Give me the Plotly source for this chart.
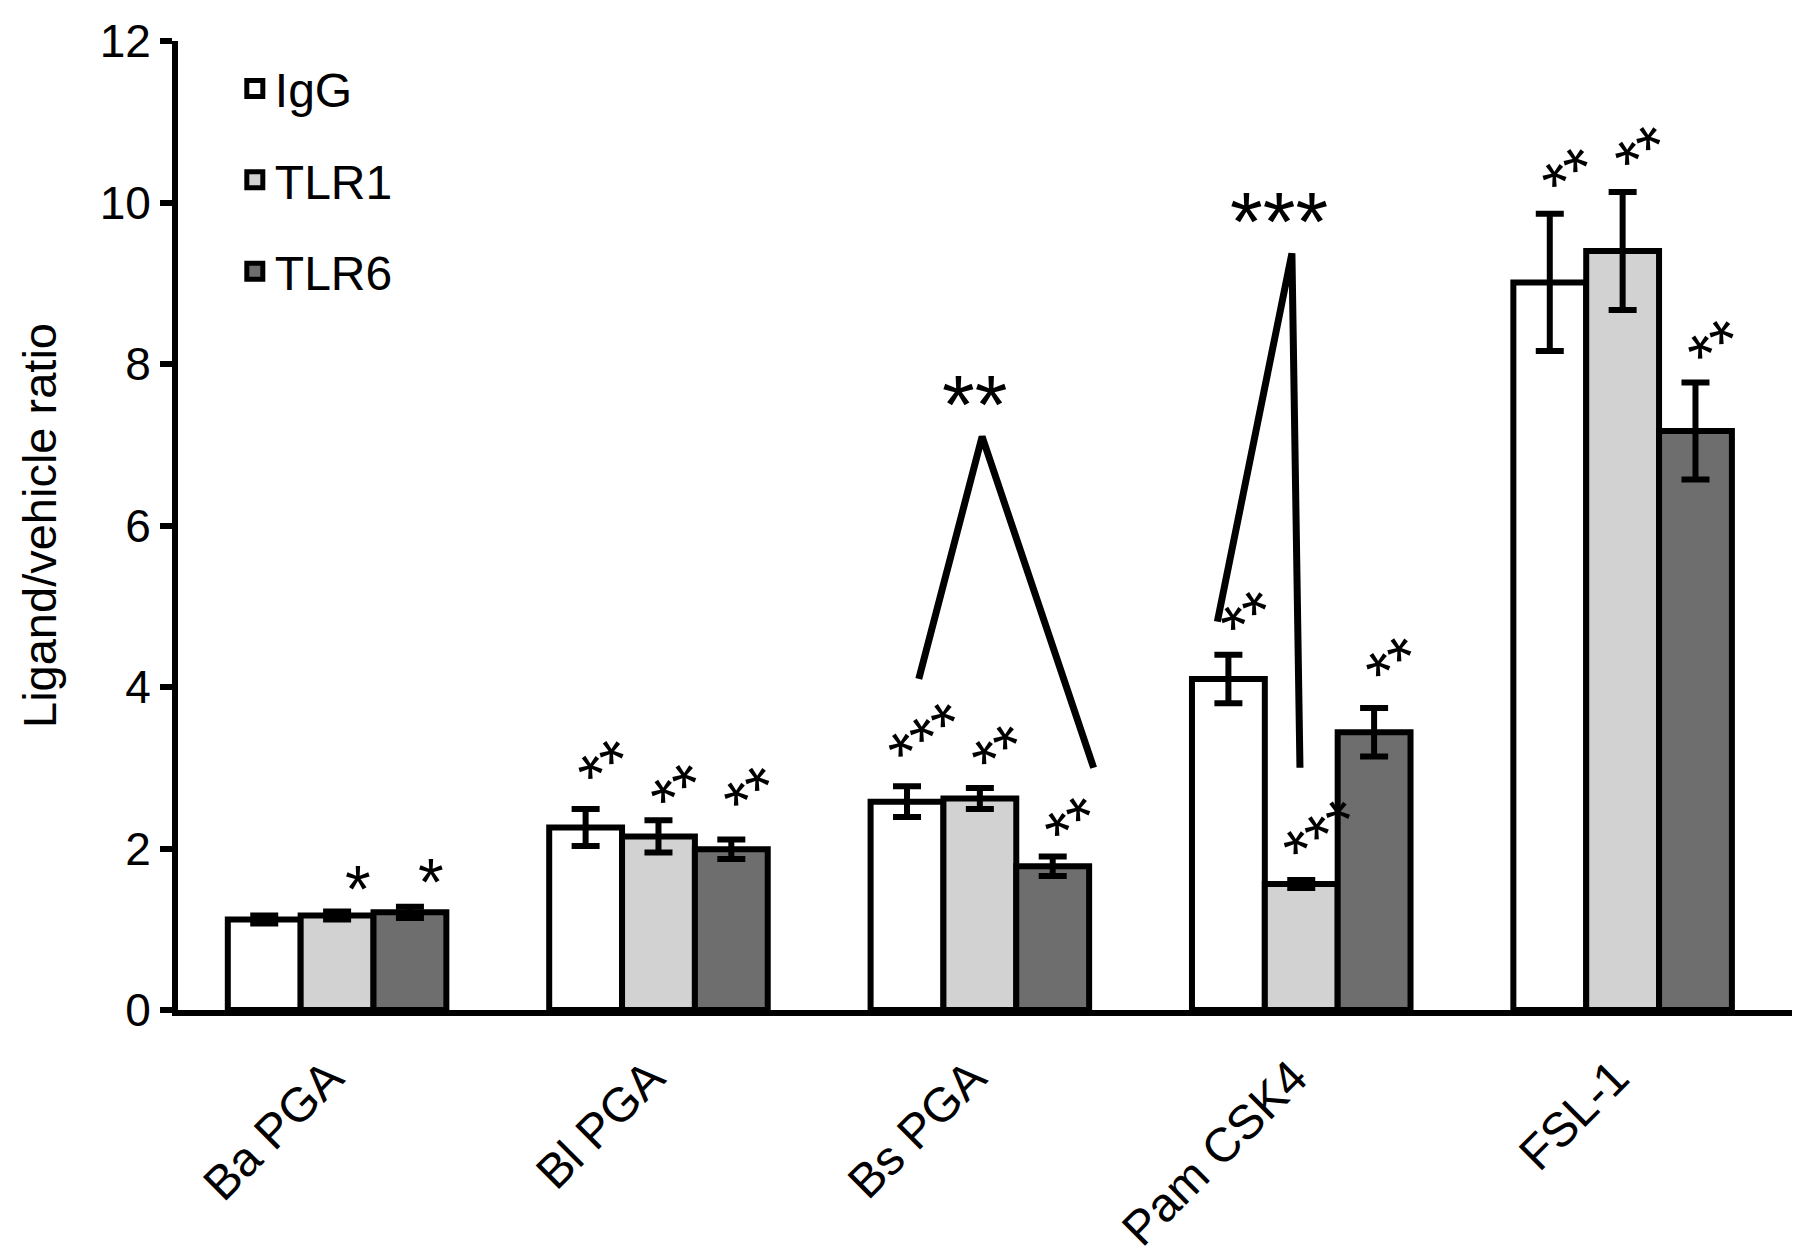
import plotly.graph_objects as go

# ---------------- data ----------------
categories = ["Ba PGA", "Bl PGA", "Bs PGA", "Pam CSK4", "FSL-1"]
series_names = ["IgG", "TLR1", "TLR6"]
igg = [1.12, 2.26, 2.58, 4.10, 9.01]
igg_err = [0.05, 0.23, 0.19, 0.30, 0.85]
tlr1 = [1.17, 2.15, 2.62, 1.56, 9.40]
tlr1_err = [0.05, 0.20, 0.13, 0.05, 0.73]
tlr6 = [1.21, 1.99, 1.78, 3.44, 7.17]
tlr6_err = [0.07, 0.12, 0.12, 0.30, 0.60]
y_ticks = [0, 2, 4, 6, 8, 10, 12]
y_title = "Ligand/vehicle ratio"

# significance marks on bars: (group index, series index, text, y)
star_group = [0, 0, 1, 1, 1, 2, 2, 2, 3, 3, 3, 4, 4, 4]
star_series = [1, 2, 0, 1, 2, 0, 1, 2, 0, 1, 2, 0, 1, 2]
star_text = ["*", "*", "**", "**", "**", "***", "**", "**", "**", "***", "**", "**", "**", "**"]
star_y = [1.50, 1.58, 3.00, 2.70, 2.66, 3.37, 3.18, 2.29, 4.84, 2.16, 4.27, 10.33, 10.60, 8.20]

# comparison brackets (x in category units, y in data units)
bs_bracket_x = [1.81, 2.007, 2.354]
bs_bracket_y = [4.10, 7.10, 3.00]
bs_bracket_label = "**"
pam_bracket_x = [2.739, 2.971, 2.996]
pam_bracket_y = [4.81, 9.37, 3.00]
pam_bracket_label = "***"

fills = ["#ffffff", "#d2d2d2", "#6e6e6e"]
FONT = "Liberation Sans, Arial, sans-serif"

values = [igg, tlr1, tlr6]
errors = [igg_err, tlr1_err, tlr6_err]
xs = list(range(len(categories)))

bargap = 0.32
bar_w = (1 - bargap) / 3
offsets = [-bar_w, 0.0, bar_w]

fig = go.Figure()
for name, vals, errs, col in zip(series_names, values, errors, fills):
    fig.add_trace(go.Bar(
        x=xs, y=vals, name=name, showlegend=False,
        marker=dict(color=col, line=dict(color="black", width=6)),
        error_y=dict(type="data", array=errs, visible=True,
                     color="black", thickness=6, width=14),
    ))
# legend entries
for name, col in zip(series_names, fills):
    fig.add_trace(go.Scatter(
        x=[None], y=[None], mode="markers", name=name,
        legendgroup=name,
        marker=dict(symbol="square", size=16, color=col,
                    line=dict(color="black", width=5)),
    ))

# brackets
for bx, by in [(bs_bracket_x, bs_bracket_y), (pam_bracket_x, pam_bracket_y)]:
    fig.add_trace(go.Scatter(
        x=bx, y=by, mode="lines", showlegend=False, hoverinfo="skip",
        line=dict(color="black", width=7),
    ))

annotations = []
for g, s, t, y in zip(star_group, star_series, star_text, star_y):
    annotations.append(dict(
        x=g + offsets[s] + 0.065, y=y, xref="x", yref="y", text=t,
        showarrow=False, textangle=0 if len(t) == 1 else -35,
        font=dict(family=FONT, size=66, color="black"),
        xanchor="center", yanchor="middle",
    ))
for bx, by, lab, dx in [(bs_bracket_x, bs_bracket_y, bs_bracket_label, -0.025),
                        (pam_bracket_x, pam_bracket_y, pam_bracket_label, -0.04)]:
    annotations.append(dict(
        x=bx[1] + dx, y=max(by) - 0.22, xref="x", yref="y", text=lab,
        showarrow=False, yanchor="bottom", xanchor="center",
        font=dict(family=FONT, size=84, color="black"),
    ))

fig.update_layout(
    width=1800, height=1260,
    paper_bgcolor="white", plot_bgcolor="white",
    margin=dict(l=170, r=7, t=26, b=258),
    barmode="group", bargap=bargap, bargroupgap=0,
    font=dict(family=FONT, color="black"),
    annotations=annotations,
    legend=dict(
        x=0.035, y=0.99, xanchor="left", yanchor="top",
        font=dict(family=FONT, size=48, color="black"),
        tracegroupgap=26, bgcolor="rgba(0,0,0,0)",
        itemwidth=30,
    ),
    xaxis=dict(
        range=[-0.495, 4.555], tickmode="array", tickvals=xs, ticktext=categories,
        tickangle=-45, showline=True, linecolor="black", linewidth=6,
        ticks="", showgrid=False, zeroline=False,
        ticklabelshift=-8, ticklabelstandoff=14,
        tickfont=dict(family=FONT, size=48, color="black"),
    ),
    yaxis=dict(
        range=[0, 12], tickmode="array", tickvals=y_ticks,
        showline=True, linecolor="black", linewidth=6,
        ticks="outside", ticklen=12, tickwidth=6, tickcolor="black",
        showgrid=False, zeroline=False,
        tickfont=dict(family=FONT, size=46, color="black"),
        title=dict(text=y_title, standoff=30,
                   font=dict(family=FONT, size=47, color="black")),
    ),
)

fig.write_html("out.html")
